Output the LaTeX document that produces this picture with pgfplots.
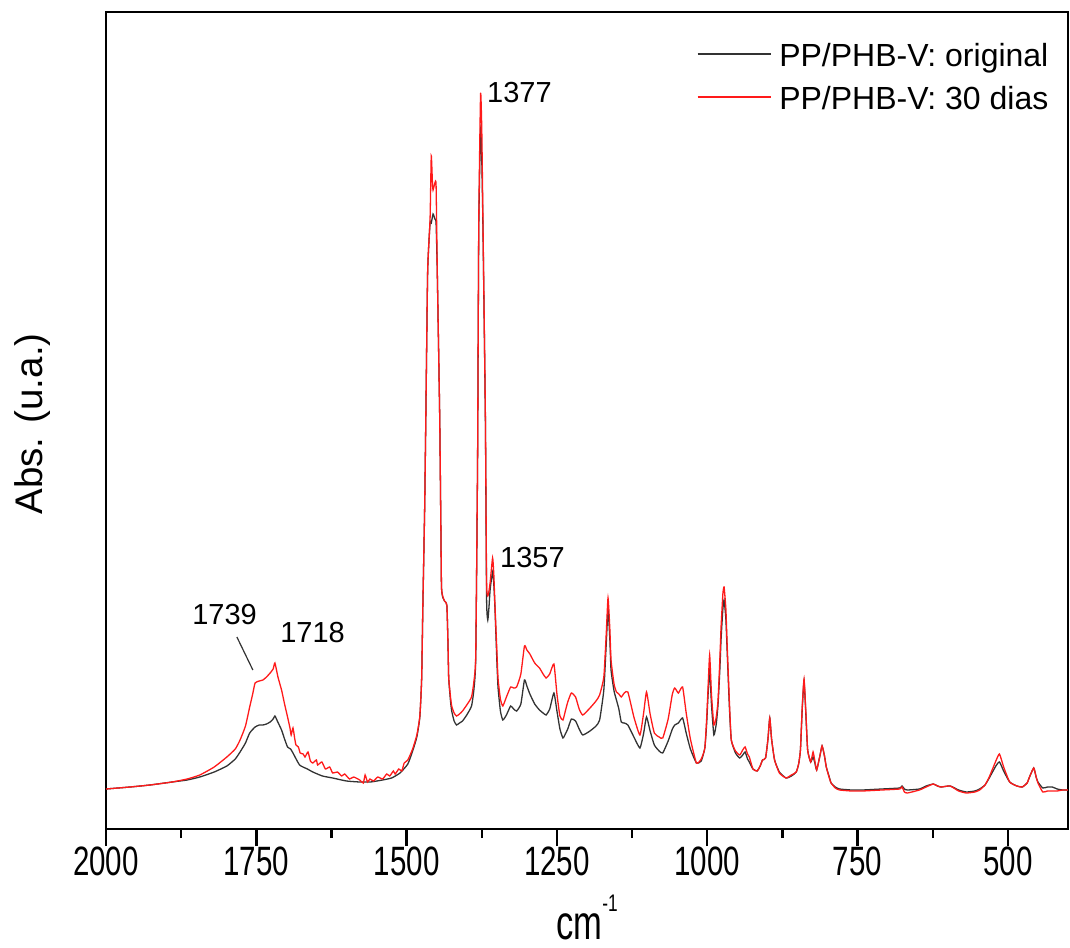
\documentclass[border=0pt]{standalone}
\usepackage{pgfplots}
\pgfplotsset{compat=1.18}
\usepackage{fontspec}
\setmainfont{Liberation Sans}
\newcommand\sx[1]{\scalebox{0.72}[1]{#1}}
\definecolor{origc}{HTML}{333333}
\definecolor{redc}{HTML}{FF1A1A}
\begin{document}
\begin{tikzpicture}
\begin{axis}[
  name=ax,
  scale only axis,
  width=481pt, height=408.5pt,
  xmin=400, xmax=2000, ymin=0, ymax=817,
  x dir=reverse,
  axis line style={line width=1.2pt},
  xtick={2000,1750,1500,1250,1000,750,500},
  xticklabels={\sx{2000},\sx{1750},\sx{1500},\sx{1250},\sx{1000},\sx{750},\sx{500}},
  minor xtick={1875,1625,1375,1125,875,625},
  xtick pos=bottom,
  tick align=outside,
  major tick length=8.5pt,
  minor tick length=4.5pt,
  every tick/.style={black, line width=1.2pt},
  ytick=\empty,
  xticklabel style={font=\fontsize{20.5}{20.5}\selectfont, inner sep=0pt},
  xlabel={\sx{cm\raisebox{14pt}{\fontsize{12}{12}\selectfont -1}}},
  xlabel style={at={(axis description cs:0.5,0)}, anchor=base, yshift=-55pt, font=\fontsize{24}{24}\selectfont, inner sep=0pt},
  ylabel={Abs. (u.a.)},
  ylabel style={at={(axis description cs:-0.0665,0.4957)}, anchor=base, font=\fontsize{19.25}{19.25}\selectfont, inner sep=0pt},
  legend style={draw=none, fill=none, at={(axis description cs:0.6143,0.962)}, anchor=north west,
    inner sep=0pt, outer sep=0pt, row sep=6.5pt, column sep=4pt,
    font=\fontsize{16}{16}\selectfont,
    nodes={inner sep=0pt, text height=11.5pt, text depth=3.5pt}},
  legend cell align=left,
  legend image code/.code={\draw[#1] (0pt,2pt) -- (36.5pt,2pt);},
]
\addplot[origc, line width=0.65pt, smooth, tension=0.3] coordinates {
(2000,40) (1960,42) (1927,44) (1890,47) (1865,49) (1844,52) (1820,57) (1799,63) (1785,70) (1777,77) (1768,86) (1761,96) (1752,102) (1745,104) (1739,104) (1733,105) (1727,107) (1722,110) (1719,113) (1715,108) (1708,99) (1703,90) (1698,82) (1693,80) (1689,76) (1678,64) (1665,60) (1656,57) (1640,53) (1623,51) (1600,48) (1578,47) (1560,47) (1540,49) (1525,51) (1511,56) (1498,65) (1490,78) (1483,92) (1478,112) (1475,150) (1473,222) (1470,320) (1468,413) (1465,557) (1461,606) (1459,606) (1456,615) (1453,610) (1451,606) (1449,557) (1445,414) (1443,300) (1442,242) (1440,232) (1437,228) (1433,223) (1431,180) (1430,151) (1427,128) (1425,118) (1421,108) (1417,104) (1412,106) (1407,108) (1400,114) (1392,123) (1388,140) (1385,172) (1382,365) (1380,600) (1377,700) (1375,670) (1373,600) (1369,410) (1367,230) (1365,209) (1363,222) (1361,240) (1357,257) (1355,245) (1353,220) (1350,170) (1348,142) (1344,118) (1340,109) (1334,114) (1327,123) (1322,120) (1317,118) (1310,125) (1304,149) (1300,143) (1295,135) (1287,125) (1279,119) (1273,116) (1268,114) (1262,120) (1255,136) (1250,118) (1245,100) (1240,91) (1236,95) (1232,100) (1226,110) (1219,108) (1213,100) (1207,94) (1195,98) (1185,103) (1179,109) (1172,139) (1168,185) (1165,219) (1162,190) (1160,159) (1155,138) (1151,129) (1147,120) (1143,107) (1138,106) (1132,104) (1122,92) (1112,81) (1106,95) (1101,112) (1095,98) (1088,84) (1080,78) (1074,76) (1065,88) (1058,100) (1054,104) (1048,106) (1041,111) (1035,96) (1028,80) (1018,66) (1010,68) (1004,81) (1001,105) (999,130) (996,159) (993,125) (989,94) (985,105) (982,125) (979,160) (977,190) (974,220) (972,229) (969,210) (967,180) (963,120) (960,89) (953,76) (946,71) (941,74) (937,77) (933,70) (930,67) (924,60) (917,58) (912,63) (908,69) (903,71) (899,90) (896,111) (893,90) (888,69) (880,57) (869,51) (860,53) (852,57) (848,65) (845,79) (842,120) (839,148) (836,115) (833,79) (828,67) (824,72) (821,66) (818,59) (813,72) (809,83) (805,73) (802,62) (797,52) (794,46) (787,42) (780,40) (760,39) (742,39) (710,40) (680,41) (676,43) (672,40) (667,39) (647,40) (636,43) (624,45) (617,43) (611,42) (596,43) (582,39) (569,37) (555,38) (547,40) (538,44) (531,51) (520,63) (514,67) (507,58) (497,47) (485,43) (476,42) (468,46) (464,52) (457,61) (453,52) (450,47) (442,41) (434,42) (426,42) (418,40) (409,39) (400,39)
};
\addlegendentry{PP/PHB-V: original}
\addplot[redc, line width=0.65pt, smooth, tension=0.3] coordinates {
(2000,40) (1960,42) (1927,44) (1890,47) (1865,50) (1844,54) (1820,62) (1799,72) (1785,80) (1777,89) (1768,103) (1761,122) (1756,135) (1752,146) (1745,148) (1739,149) (1733,152) (1727,156) (1722,160) (1719,166) (1714,152) (1708,139) (1703,125) (1698,112) (1694,101) (1692,94) (1689,101) (1686,90) (1684,84) (1680,82) (1677,76) (1672,75) (1669,72) (1664,77) (1660,68) (1656,66) (1650,69) (1648,64) (1641,67) (1635,60) (1628,62) (1623,56) (1615,57) (1608,53) (1603,55) (1595,50) (1588,52) (1578,49) (1572,46) (1569,54) (1565,47) (1561,50) (1555,48) (1548,52) (1540,50) (1533,55) (1528,53) (1522,58) (1519,55) (1513,60) (1508,58) (1504,66) (1498,69) (1490,80) (1483,94) (1478,113) (1475,150) (1473,223) (1470,320) (1468,414) (1465,558) (1461,610) (1459,673) (1457,645) (1456,639) (1453,646) (1451,644) (1449,558) (1445,414) (1443,300) (1442,242) (1440,233) (1437,228) (1433,223) (1431,180) (1430,151) (1427,132) (1425,123) (1421,116) (1417,113) (1412,115) (1407,118) (1400,124) (1392,132) (1388,148) (1385,175) (1382,367) (1380,606) (1377,735) (1375,700) (1373,606) (1369,414) (1367,247) (1365,233) (1363,238) (1361,247) (1357,271) (1355,255) (1353,223) (1350,180) (1348,151) (1344,130) (1340,123) (1334,132) (1327,142) (1322,141) (1317,142) (1310,155) (1304,183) (1300,179) (1295,175) (1287,166) (1279,161) (1273,155) (1268,151) (1262,155) (1255,165) (1250,135) (1245,113) (1240,109) (1236,118) (1232,127) (1226,136) (1219,132) (1213,120) (1207,114) (1195,121) (1185,128) (1179,134) (1172,152) (1168,195) (1165,231) (1162,200) (1160,169) (1155,145) (1151,137) (1147,135) (1143,132) (1138,136) (1132,137) (1122,112) (1112,94) (1106,115) (1101,137) (1095,115) (1088,96) (1080,92) (1074,91) (1065,110) (1058,135) (1054,141) (1048,136) (1041,142) (1035,116) (1028,90) (1018,66) (1010,70) (1004,81) (1001,110) (999,136) (996,174) (993,135) (989,104) (985,112) (982,129) (979,170) (977,202) (974,235) (972,242) (969,220) (967,186) (963,125) (960,89) (953,78) (946,74) (941,79) (937,82) (933,75) (930,72) (924,60) (917,58) (912,63) (908,69) (903,71) (899,90) (896,111) (893,90) (888,69) (880,56) (869,51) (860,54) (852,57) (848,65) (845,79) (842,122) (839,150) (836,117) (833,79) (828,67) (824,77) (821,68) (818,59) (813,72) (809,83) (805,73) (802,62) (797,51) (794,46) (787,41) (780,39) (760,38) (742,38) (710,39) (680,40) (676,42) (672,37) (667,36) (647,39) (636,42) (624,45) (617,43) (611,42) (596,43) (582,38) (569,36) (555,37) (547,39) (538,44) (531,52) (520,68) (514,75) (507,62) (497,47) (485,43) (476,42) (468,46) (464,52) (457,61) (453,52) (450,46) (442,37) (434,38) (426,38) (418,38) (409,39) (400,39)
};
\addlegendentry{PP/PHB-V: 30 dias}
\node[anchor=base west, inner sep=0pt, font=\fontsize{14.5}{14.5}\selectfont] at (axis cs:1366.7,726) {1377};
\node[anchor=base west, inner sep=0pt, font=\fontsize{14.5}{14.5}\selectfont] at (axis cs:1345.1,261) {1357};
\node[anchor=base west, inner sep=0pt, font=\fontsize{14.5}{14.5}\selectfont] at (axis cs:1857,204) {1739};
\node[anchor=base west, inner sep=0pt, font=\fontsize{14.5}{14.5}\selectfont] at (axis cs:1710.8,186) {1718};
\draw[origc, line width=0.6pt] (axis cs:1782.3,192) -- (axis cs:1755.7,159);
\end{axis}
\pgfresetboundingbox
\path ([xshift=-53pt,yshift=-59pt]ax.south west) rectangle ([xshift=1pt,yshift=6pt]ax.north east);
\end{tikzpicture}
\end{document}
